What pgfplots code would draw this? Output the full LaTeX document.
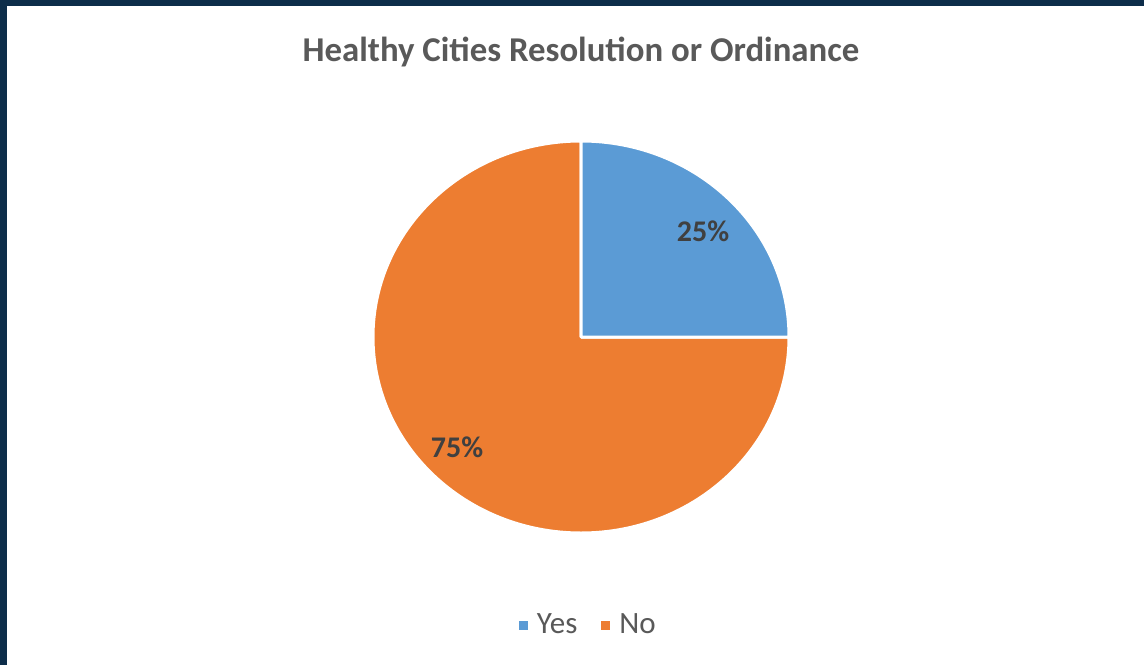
\documentclass[border=0pt]{standalone}
\usepackage{pgfplots}
\usepackage{pgfplotstable}
\pgfplotsset{compat=1.18}
\usepackage{fontspec}
\setmainfont{Carlito}
\definecolor{navy}{HTML}{0D2D4A}
\definecolor{pieblue}{HTML}{5B9BD5}
\definecolor{pieorange}{HTML}{ED7D31}
\definecolor{titlegray}{HTML}{595959}
\definecolor{labelgray}{HTML}{404040}
\pgfplotstableread{
label value
Yes 25
No 75
}\piedata
\pgfplotstablegetelem{0}{value}\of\piedata \let\valyes\pgfplotsretval
\pgfplotstablegetelem{1}{value}\of\piedata \let\valno\pgfplotsretval
\begin{document}
\begin{tikzpicture}
\fill[navy] (0,0) rectangle (572pt,332.5pt);
\fill[white] (3.5pt,0) rectangle (572pt,329.5pt);
\node[font=\bfseries\fontsize{17.4}{20}\selectfont, text=titlegray] at (290.5pt,306.5pt) {Healthy Cities Resolution or Ordinance};
\pgfmathsetmacro{\angyes}{90-360*(\valyes/(\valyes+\valno))}
\pgfmathsetmacro{\angno}{\angyes-360*(\valno/(\valyes+\valno))}
\begin{axis}[
  at={(290.5pt,164pt)}, anchor=center,
  scale only axis, width=208pt, height=196pt,
  xmin=-1, xmax=1, ymin=-1, ymax=1,
  hide axis, clip=false,
  legend style={at={(rel axis cs:0.52,0)}, anchor=center, yshift=-46pt, draw=none, fill=none,
    legend columns=2, font=\fontsize{15.5}{18}\selectfont, text=titlegray,
    /tikz/every odd column/.append style={column sep=3pt},
    /tikz/every even column/.append style={column sep=10pt}},
  legend cell align=left,
]
\addlegendimage{only marks, mark=square*, mark size=2pt, color=pieblue}
\addlegendentry{Yes}
\addlegendimage{only marks, mark=square*, mark size=2pt, color=pieorange}
\addlegendentry{No}
\filldraw[fill=pieorange, draw=white, line width=1.5pt, line join=round]
  (axis cs:0,0) -- (axis cs:{cos(\angyes)},{sin(\angyes)})
  arc[start angle=\angyes, end angle=\angno, x radius=104pt, y radius=98pt] -- cycle;
\filldraw[fill=pieblue, draw=white, line width=1.5pt, line join=round]
  (axis cs:0,0) -- (axis cs:0,1)
  arc[start angle=90, end angle=\angyes, x radius=104pt, y radius=98pt] -- cycle;
\node[font=\bfseries\fontsize{15}{18}\selectfont, text=labelgray] at (axis cs:0.587,0.541) {25\%};
\node[font=\bfseries\fontsize{15}{18}\selectfont, text=labelgray] at (axis cs:-0.596,-0.561) {75\%};
\end{axis}
\end{tikzpicture}
\end{document}
